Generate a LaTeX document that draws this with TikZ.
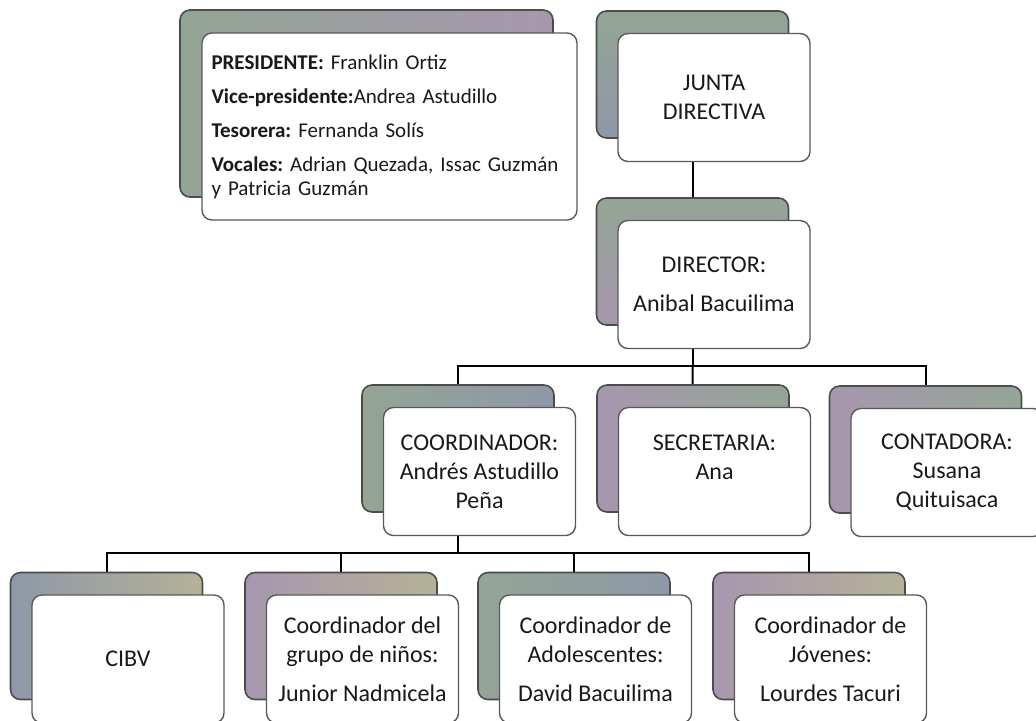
\documentclass[tikz,border=0pt]{standalone}
\usepackage{fontspec}
\setmainfont{Carlito}
\usepackage{tikz}
\usetikzlibrary{positioning}
\usetikzlibrary{backgrounds}
\frenchspacing
\definecolor{verdoso}{HTML}{93A595}
\definecolor{lila}{HTML}{A797AE}
\definecolor{azulado}{HTML}{8E98A8}
\definecolor{arena}{HTML}{B5B197}
\tikzset{
    atras/.style={draw=black!70, line width=0.8pt, rounded corners=5pt, minimum width=96pt, minimum height=63.5pt, inner sep=0pt},
    frente/.style={draw=black!65, line width=0.7pt, fill=white, rounded corners=5pt, minimum width=96pt, minimum height=64pt, inner sep=2pt, align=center, text=black!90, font=\fontsize{12}{14.5}\selectfont},
    linea/.style={draw=black, line width=1pt}
}
\newcommand{\cargo}[5]{ % Takes node name, x coord, y coord, colours of the back box, text as arguments
    \node [atras, #4] (#1-b) at (#2, #3) {};
    \node [frente] (#1) at ([shift={(21.5,23)}]#1-b) {#5};
}

\begin{document}
\begin{tikzpicture}[x=0.5pt, y=-0.5pt]
                \useasboundingbox (0,0) rectangle (1036,720);

                % Miembros de la junta
                \node[atras, minimum width=186.5pt, minimum height=93.5pt, left color=verdoso, right color=lila] (info-b) at (366.5,103.5) {};
                \node[frente, minimum width=187.5pt, minimum height=93.5pt, text width=178pt, align=left, font=\fontsize{10.5}{12}\selectfont] (info) at ([shift={(23,23)}]info-b) {\textbf{PRESIDENTE:} Franklin Ortiz\\[5pt]
                    \textbf{Vice-presidente:}Andrea Astudillo\\[5pt]
                    \textbf{Tesorera:} Fernanda Solís\\[5pt]
                    \textbf{Vocales:} Adrian Quezada, Issac Guzmán\\
                    y Patricia Guzmán};

                % Nivel 1 y 2
                \cargo{junta}{692.5}{74.5}{top color=verdoso, bottom color=azulado}{JUNTA\\DIRECTIVA}
                \cargo{director}{692.5}{261.5}{top color=verdoso, bottom color=lila}{DIRECTOR:\\[5pt]Anibal Bacuilima}

                % Nivel 3
                \cargo{coord}{458}{448.5}{left color=verdoso, right color=azulado}{COORDINADOR:\\Andrés Astudillo\\Peña}
                \cargo{secre}{693}{448.5}{left color=lila, right color=verdoso}{SECRETARIA:\\Ana\\\mbox{}}
                \cargo{conta}{925.5}{449.5}{left color=lila, right color=verdoso}{CONTADORA:\\Susana\\Quituisaca}

                % Nivel 4
                \cargo{cibv}{106.5}{636}{left color=azulado, right color=arena}{CIBV}
                \cargo{ninos}{341}{636}{left color=lila, right color=arena}{Coordinador del\\grupo de niños:\\[5pt]Junior Nadmicela}
                \cargo{adol}{574}{636}{left color=verdoso, right color=azulado}{Coordinador de\\Adolescentes:\\[5pt]David Bacuilima}
                \cargo{joven}{809}{636}{left color=lila, right color=arena}{Coordinador de\\Jóvenes:\\[5pt]Lourdes Tacuri}

                % Conectores
                \coordinate (barra1) at (692.5,366);
                \coordinate (barra2) at (458,553);
                \begin{pgfonlayer}{background}
                    \draw[linea] (junta-b) -- (director-b);
                    \draw[linea] (director-b) -- (barra1) -| (coord-b);
                    \draw[linea] (barra1) -- (secre-b);
                    \draw[linea] (barra1) -| (conta-b);
                    \draw[linea] (coord-b) -- (barra2) -| (cibv-b);
                    \draw[linea] (barra2) -| (ninos-b);
                    \draw[linea] (barra2) -| (adol-b);
                    \draw[linea] (barra2) -| (joven-b);
                \end{pgfonlayer}
\end{tikzpicture}
\end{document}
